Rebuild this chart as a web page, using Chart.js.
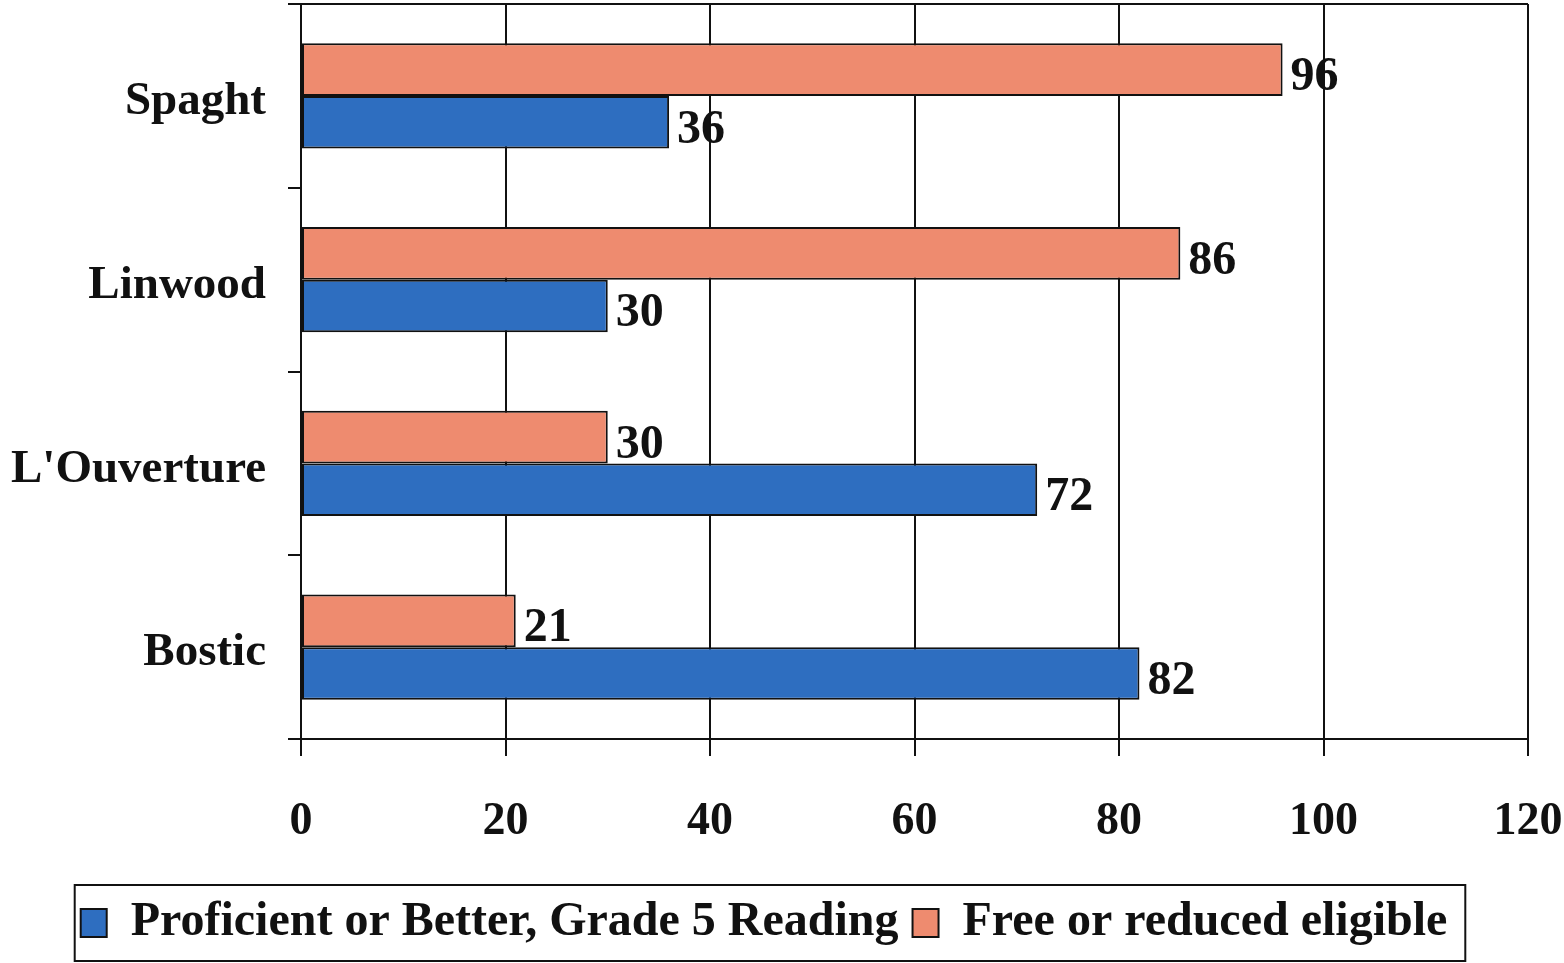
<!DOCTYPE html>
<html>
<head>
<meta charset="utf-8">
<script src="https://cdn.jsdelivr.net/npm/chart.js@4.4.1/dist/chart.umd.min.js"></script>
<style>
html,body{margin:0;padding:0;background:#fff;}
#wrap{width:1564px;height:963px;}
</style>
</head>
<body>
<div id="wrap"><canvas id="c" width="1564" height="963"></canvas></div>
<script>
const categories = ["Spaght", "Linwood", "L'Ouverture", "Bostic"];
const freeReduced = [96, 86, 30, 21];
const proficient = [36, 30, 72, 82];
const xTicks = [0, 20, 40, 60, 80, 100, 120];
const seriesNames = ["Free or reduced eligible", "Proficient or Better, Grade 5 Reading"];

const FONT = "'Liberation Serif', 'Times New Roman', serif";

const frame = {
  id: 'frame',
  afterDraw(chart) {
    const ctx = chart.ctx, a = chart.chartArea;
    ctx.save();
    ctx.strokeStyle = '#111';
    ctx.lineWidth = 2;
    ctx.beginPath();
    ctx.moveTo(a.left - 13, a.top);
    ctx.lineTo(a.right, a.top);
    ctx.stroke();
    // legend border
    const lg = chart.legend;
    if (lg && lg.legendHitBoxes && lg.legendHitBoxes.length) {
      let l = Infinity, r = -Infinity, t = Infinity, b = -Infinity;
      lg.legendHitBoxes.forEach(h => {
        l = Math.min(l, h.left); r = Math.max(r, h.left + h.width);
        t = Math.min(t, h.top); b = Math.max(b, h.top + h.height);
      });
      const cy = (t + b) / 2;
      ctx.lineWidth = 2;
      ctx.strokeRect(l - 6, cy - 38, (r - l) + 24, 76);
    }
    ctx.restore();
  }
};

const valueLabels = {
  id: 'valueLabels',
  afterDatasetsDraw(chart) {
    const ctx = chart.ctx;
    ctx.save();
    ctx.fillStyle = '#111';
    ctx.font = "bold 48px " + FONT;
    ctx.textAlign = 'left';
    ctx.textBaseline = 'middle';
    chart.data.datasets.forEach((ds, di) => {
      chart.getDatasetMeta(di).data.forEach((bar, i) => {
        ctx.fillText(String(ds.data[i]), bar.x + 8, bar.y + 8);
      });
    });
    ctx.restore();
  }
};

new Chart(document.getElementById('c'), {
  type: 'bar',
  data: {
    labels: categories,
    datasets: [
      { label: seriesNames[0], data: freeReduced, backgroundColor: '#EE8B6F', borderColor: '#111', borderWidth: 2, borderSkipped: false },
      { label: seriesNames[1], data: proficient, backgroundColor: '#2E6EC0', borderColor: '#111', borderWidth: 2, borderSkipped: false }
    ]
  },
  options: {
    indexAxis: 'y',
    responsive: false,
    animation: false,
    devicePixelRatio: 1,
    categoryPercentage: 0.572,
    barPercentage: 1.0,
    layout: { padding: { top: 4, right: 36, left: 0, bottom: 6 } },
    scales: {
      x: {
        min: 0, max: 120,
        afterBuildTicks(scale) { scale.ticks = xTicks.map(v => ({ value: v })); },
        grid: { color: '#111', lineWidth: 2, tickLength: 17, drawTicks: true },
        border: { display: true, color: '#111', width: 2 },
        ticks: { color: '#111', font: { family: FONT, size: 46, weight: 'bold' }, padding: 39, maxRotation: 0 },
        afterFit(scale) { scale.height = 146; scale.paddingLeft = 0; scale.paddingRight = 0; }
      },
      y: {
        grid: { drawOnChartArea: false, drawTicks: true, tickLength: 13, color: '#111', lineWidth: 2, offset: true },
        border: { display: true, color: '#111', width: 2 },
        ticks: { color: '#111', font: { family: FONT, size: 47, weight: 'bold' }, padding: 22, labelOffset: 6 },
        afterFit(scale) { scale.width = 301; scale.paddingTop = 0; scale.paddingBottom = 0; }
      }
    },
    plugins: {
      legend: {
        position: 'bottom',
        reverse: true,
        labels: {
          color: '#111',
          font: { family: FONT, size: 48, weight: 'bold' },
          boxWidth: 26, boxHeight: 28, padding: 14
        }
      },
      tooltip: { enabled: false }
    }
  },
  plugins: [frame, valueLabels]
});
</script>
</body>
</html>
